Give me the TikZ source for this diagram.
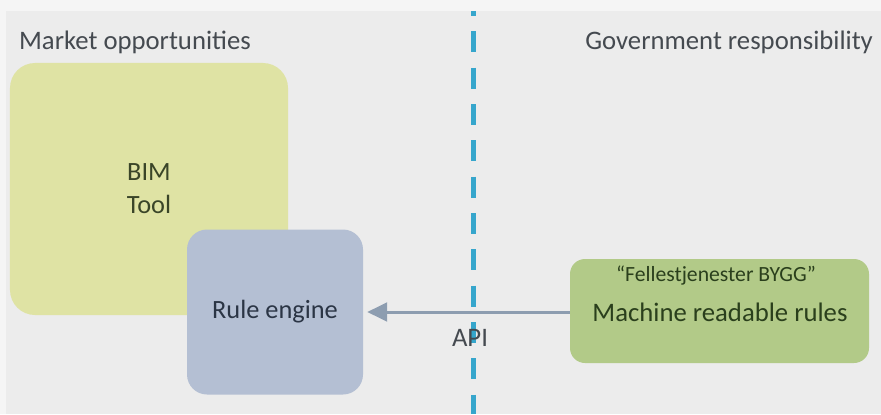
\documentclass[tikz,border=0pt]{standalone}
\usepackage{fontspec}
\setmainfont{Carlito}
\usetikzlibrary{arrows.meta}
\definecolor{bgmain}{HTML}{ECECEC}
\definecolor{bgtop}{HTML}{F5F5F5}
\definecolor{bimfill}{HTML}{DFE3A4}
\definecolor{bimtext}{HTML}{3A4528}
\definecolor{enginefill}{HTML}{B4BFD3}
\definecolor{enginetext}{HTML}{2B3545}
\definecolor{rulesfill}{HTML}{B2CA88}
\definecolor{rulestext}{HTML}{2A3F1C}
\definecolor{headtext}{HTML}{454A50}
\definecolor{borderblue}{HTML}{36A6CC}
\definecolor{arrowgray}{HTML}{8D9DB0}
\tikzset{
	headstyle/.style={text=headtext,font=\fontsize{22.8}{26}\selectfont},
	bimstyle/.style={rectangle,rounded corners=7.5mm,fill=bimfill,text=bimtext,align=center,minimum width=83.4mm,minimum height=75.6mm,font=\fontsize{22.5}{28}\selectfont},
	enginestyle/.style={rectangle,rounded corners=6mm,fill=enginefill,text=enginetext,minimum width=52.8mm,minimum height=49.5mm,font=\fontsize{22.5}{26}\selectfont},
	rulesstyle/.style={rectangle,rounded corners=4.5mm,fill=rulesfill,text=rulestext,minimum width=89.7mm,minimum height=31.2mm},
	byggstyle/.style={text=rulestext,font=\fontsize{18.5}{22}\selectfont},
	machinestyle/.style={text=rulestext,font=\fontsize{22.8}{26}\selectfont},
	borderstyle/.style={draw=borderblue,line width=1.35mm,dash pattern=on 6.3mm off 4.6mm,dash phase=4.8mm},
	apistyle/.style={-{Triangle[length=6mm,width=5.6mm]},draw=arrowgray,fill=arrowgray,line width=0.9mm,shorten >=1.2mm}
}
\begin{document}
\begin{tikzpicture}[x=0.3mm,y=-0.3mm]
	\fill[bgtop] (0,0) rectangle (881,414);
	\fill[bgmain] (6,11) rectangle (881,414);
	\useasboundingbox (0,0) rectangle (881,414);
	\node[headstyle,anchor=west] (market) at (15,42) {Market opportunities};
	\node[headstyle,anchor=east] (government) at (877,42) {Government responsibility};
	\node[bimstyle] (bim) at (149,189) {BIM\\Tool};
	\node[enginestyle] (engine) at (275,312) {Rule engine};
	\coordinate (bordertop) at (473.5,11);
	\coordinate (borderbottom) at (473.5,414);
	\draw[borderstyle] (bordertop)--(borderbottom);
	\node[rulesstyle] (rules) at (719.5,311) {};
	\node[byggstyle] (bygg) at (716,276) {“Fellestjenester BYGG”};
	\node[machinestyle] (machine) at (720,312) {Machine readable rules};
	\draw[apistyle] (rules.west |- engine.east)--(engine.east);
	\node[headstyle] (api) at (470,338) {API};
\end{tikzpicture}
\end{document}
